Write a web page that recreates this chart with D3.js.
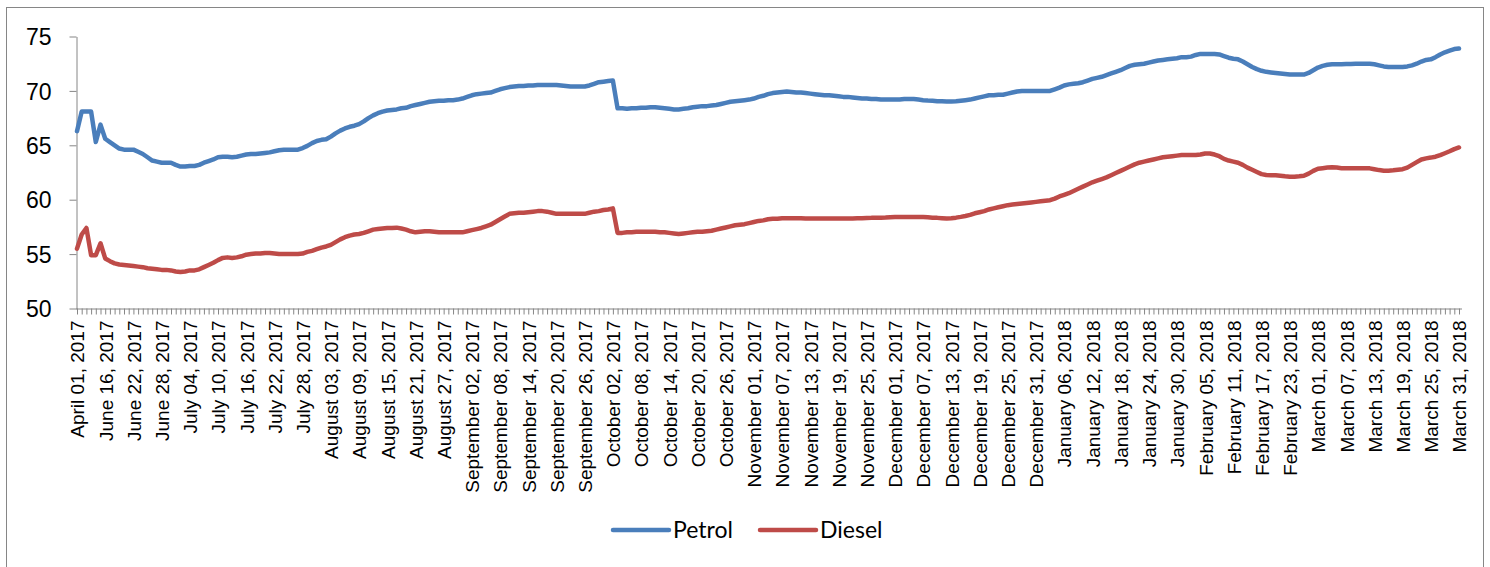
<!DOCTYPE html>
<html>
<head>
<meta charset="utf-8">
<script src="https://cdn.jsdelivr.net/npm/d3@7"></script>
<style>
  body { margin: 0; background: #fff; }
  svg { display: block; font-family: Lato, "Open Sans", sans-serif; }
</style>
</head>
<body>
<svg class="chart" width="1490" height="567"></svg>
<script>
// fortnightly revisions before daily pricing, then one point a day
var preDates = ["2017-04-01", "2017-04-16", "2017-04-25", "2017-05-01", "2017-05-16", "2017-06-01"];
var dailyStart = "2017-06-16", dailyEnd = "2018-03-31";

var yTicks = [50, 55, 60, 65, 70, 75];
var labelEvery = 6;

var petrol = [
  66.3, 68.1, 68.1, 68.1, 65.3, 66.9,
  // june
  65.6, 65.3, 65.0, 64.7, 64.6, 64.6, 64.6, 64.4, 64.2, 63.9, 63.6, 63.5, 63.4, 63.4, 63.4,
  // july
  63.2, 63.05, 63.05, 63.1, 63.1, 63.2, 63.4, 63.55, 63.7, 63.9, 63.95, 63.95, 63.9, 63.95, 64.05, 64.15,
  64.2, 64.2, 64.25, 64.3, 64.35, 64.45, 64.55, 64.6, 64.6, 64.6, 64.6, 64.75, 64.95, 65.2, 65.4,
  // august
  65.5, 65.55, 65.8, 66.1, 66.35, 66.55, 66.7, 66.8, 66.95, 67.2, 67.5, 67.75, 67.95, 68.1, 68.2, 68.25,
  68.3, 68.4, 68.45, 68.6, 68.7, 68.8, 68.9, 69.0, 69.05, 69.1, 69.1, 69.15, 69.15, 69.2, 69.3,
  // september
  69.45, 69.6, 69.7, 69.75, 69.8, 69.85, 70.0, 70.15, 70.25, 70.35, 70.4, 70.45, 70.45, 70.5, 70.5,
  70.55, 70.55, 70.55, 70.55, 70.55, 70.5, 70.45, 70.4, 70.4, 70.4, 70.4, 70.5, 70.65, 70.8, 70.85,
  // october
  70.9, 70.95, 68.4, 68.4, 68.35, 68.4, 68.4, 68.45, 68.45, 68.5, 68.5, 68.45, 68.4, 68.35, 68.3, 68.3,
  68.35, 68.4, 68.5, 68.55, 68.6, 68.6, 68.65, 68.7, 68.8, 68.9, 69.0, 69.05, 69.1, 69.15, 69.2,
  // november
  69.3, 69.45, 69.55, 69.7, 69.8, 69.85, 69.9, 69.95, 69.9, 69.85, 69.85, 69.8, 69.75, 69.7, 69.65,
  69.6, 69.6, 69.55, 69.5, 69.45, 69.45, 69.4, 69.35, 69.3, 69.3, 69.25, 69.25, 69.2, 69.2, 69.2,
  // december
  69.2, 69.2, 69.25, 69.25, 69.25, 69.2, 69.15, 69.12, 69.1, 69.05, 69.05, 69.03, 69.03, 69.05, 69.1, 69.15,
  69.2, 69.3, 69.4, 69.5, 69.6, 69.6, 69.65, 69.65, 69.75, 69.85, 69.95, 70.0, 70.0, 70.0, 70.0,
  // january
  70.0, 70.0, 70.0, 70.15, 70.3, 70.5, 70.6, 70.65, 70.7, 70.8, 70.95, 71.1, 71.2, 71.3, 71.45, 71.6,
  71.75, 71.9, 72.1, 72.3, 72.4, 72.45, 72.5, 72.6, 72.7, 72.8, 72.85, 72.9, 72.95, 73.0, 73.1,
  // february
  73.1, 73.15, 73.3, 73.4, 73.4, 73.4, 73.4, 73.35, 73.2, 73.05, 72.95, 72.9, 72.7, 72.45,
  72.2, 72.0, 71.85, 71.75, 71.7, 71.65, 71.6, 71.55, 71.5, 71.5, 71.5, 71.5, 71.65, 71.9,
  // march
  72.15, 72.3, 72.4, 72.45, 72.45, 72.45, 72.48, 72.48, 72.5, 72.5, 72.5, 72.5, 72.45, 72.35, 72.25, 72.2,
  72.2, 72.2, 72.2, 72.25, 72.35, 72.5, 72.7, 72.85, 72.9, 73.1, 73.35, 73.55, 73.7, 73.85, 73.9
];

var diesel = [
  55.5, 56.8, 57.4, 54.9, 54.9, 56.0,
  // june
  54.6, 54.35, 54.15, 54.05, 54.0, 53.95, 53.9, 53.85, 53.8, 53.7, 53.65, 53.6, 53.55, 53.55, 53.5,
  // july
  53.4, 53.35, 53.4, 53.5, 53.5, 53.6, 53.8, 54.0, 54.2, 54.45, 54.65, 54.7, 54.65, 54.7, 54.8, 54.95,
  55.0, 55.05, 55.05, 55.1, 55.1, 55.05, 55.0, 55.0, 55.0, 55.0, 55.0, 55.05, 55.2, 55.3, 55.45,
  // august
  55.6, 55.7, 55.85, 56.1, 56.35, 56.55, 56.7, 56.8, 56.85, 56.95, 57.1, 57.25, 57.3, 57.35, 57.4, 57.4,
  57.43, 57.35, 57.25, 57.1, 57.0, 57.05, 57.1, 57.1, 57.05, 57.0, 57.0, 57.0, 57.0, 57.0, 57.0,
  // september
  57.1, 57.2, 57.3, 57.4, 57.55, 57.7, 57.95, 58.2, 58.45, 58.7, 58.75, 58.8, 58.8, 58.85, 58.9,
  58.95, 58.95, 58.9, 58.8, 58.7, 58.7, 58.7, 58.7, 58.7, 58.7, 58.7, 58.8, 58.9, 58.95, 59.05,
  // october
  59.1, 59.2, 56.95, 56.95, 57.0, 57.0, 57.05, 57.05, 57.05, 57.05, 57.05, 57.0, 57.0, 56.95, 56.9, 56.85,
  56.9, 56.95, 57.0, 57.05, 57.05, 57.1, 57.15, 57.25, 57.35, 57.45, 57.55, 57.65, 57.7, 57.75, 57.85,
  // november
  57.95, 58.05, 58.1, 58.2, 58.25, 58.25, 58.3, 58.3, 58.3, 58.3, 58.3, 58.28, 58.27, 58.27, 58.27,
  58.27, 58.27, 58.27, 58.27, 58.27, 58.28, 58.28, 58.3, 58.3, 58.32, 58.33, 58.35, 58.35, 58.36, 58.38,
  // december
  58.4, 58.4, 58.42, 58.42, 58.42, 58.42, 58.4, 58.38, 58.35, 58.33, 58.3, 58.27, 58.3, 58.35, 58.42, 58.5,
  58.6, 58.75, 58.85, 58.95, 59.1, 59.2, 59.3, 59.4, 59.5, 59.55, 59.6, 59.65, 59.7, 59.75, 59.8,
  // january
  59.85, 59.9, 59.95, 60.1, 60.3, 60.45, 60.6, 60.8, 61.0, 61.2, 61.4, 61.6, 61.75, 61.9, 62.05, 62.25,
  62.45, 62.65, 62.85, 63.05, 63.25, 63.4, 63.5, 63.6, 63.7, 63.8, 63.9, 63.95, 64.0, 64.05, 64.1,
  // february
  64.1, 64.1, 64.1, 64.15, 64.25, 64.25, 64.15, 64.0, 63.75, 63.6, 63.5, 63.4, 63.2, 62.95,
  62.75, 62.55, 62.35, 62.27, 62.25, 62.24, 62.2, 62.15, 62.11, 62.11, 62.15, 62.2, 62.4, 62.65,
  // march
  62.85, 62.9, 62.95, 62.98, 62.95, 62.9, 62.9, 62.9, 62.9, 62.9, 62.9, 62.88, 62.8, 62.72, 62.67, 62.67,
  62.7, 62.75, 62.8, 62.95, 63.2, 63.45, 63.7, 63.8, 63.87, 63.95, 64.1, 64.27, 64.45, 64.65, 64.8
];

var seriesNames = ["Petrol", "Diesel"];
var seriesColors = ["#4a7ebb", "#be4b48"];

var parse = d3.timeParse("%Y-%m-%d");
var fmt = d3.timeFormat("%B %d, %Y");
var dates = preDates.map(parse)
  .concat(d3.timeDay.range(parse(dailyStart), d3.timeDay.offset(parse(dailyEnd), 1)));
var cats = d3.range(dates.length);

var svg = d3.select(".chart");
var axisColor = "#868686";

// chart frame
svg.append("rect")
  .attr("x", 6.5).attr("y", 7.5)
  .attr("width", 1477).attr("height", 570)
  .attr("fill", "none").attr("stroke", axisColor);

var x = d3.scalePoint().domain(cats).range([77, 1459]);
var y = d3.scaleLinear().domain([50, 75]).range([308.5, 36.5]);

// y axis
svg.append("g")
  .attr("transform", "translate(76.5,0)")
  .call(d3.axisLeft(y).tickValues(yTicks).tickSize(7).tickSizeOuter(0).tickPadding(18))
  .call(function(g) {
    g.selectAll("path, line").attr("stroke", axisColor);
    g.selectAll("text").attr("fill", "#000").style("font-size", "23px").attr("dy", "0.36em");
  });

// x axis, a tick on every category and a label every 6th
svg.append("g")
  .attr("transform", "translate(0,308.5)")
  .call(d3.axisBottom(x).tickSize(6).tickSizeOuter(0)
    .tickFormat(function(d) { return d % labelEvery === 0 ? fmt(dates[d]) : ""; }))
  .call(function(g) {
    g.select(".domain").attr("d", "M76,0.5H1462");
    g.selectAll("path, line").attr("stroke", axisColor);
    g.selectAll("text")
      .attr("fill", "#000")
      .style("font-size", "19px")
      .attr("transform", "rotate(-90)")
      .attr("text-anchor", "end")
      .attr("x", -12).attr("y", 0).attr("dy", "0.36em");
  });

var line = d3.line()
  .x(function(d, i) { return x(i); })
  .y(function(d) { return y(d); });

[petrol, diesel].forEach(function(s, k) {
  svg.append("path")
    .datum(s)
    .attr("fill", "none")
    .attr("stroke", seriesColors[k])
    .attr("stroke-width", 4.5)
    .attr("stroke-linejoin", "round")
    .attr("stroke-linecap", "round")
    .attr("d", line);
});

// legend
var legend = svg.append("g").attr("transform", "translate(613,530)");
var item = legend.selectAll("g")
  .data(seriesNames)
  .join("g")
  .attr("transform", function(d, i) { return "translate(" + (i * 147) + ",0)"; });
item.append("line")
  .attr("x1", 0).attr("x2", 56)
  .attr("stroke", function(d, i) { return seriesColors[i]; })
  .attr("stroke-width", 4.5)
  .attr("stroke-linecap", "round");
item.append("text")
  .attr("x", 60).attr("dy", "0.36em")
  .style("font-size", "23px")
  .text(function(d) { return d; });
</script>
</body>
</html>
